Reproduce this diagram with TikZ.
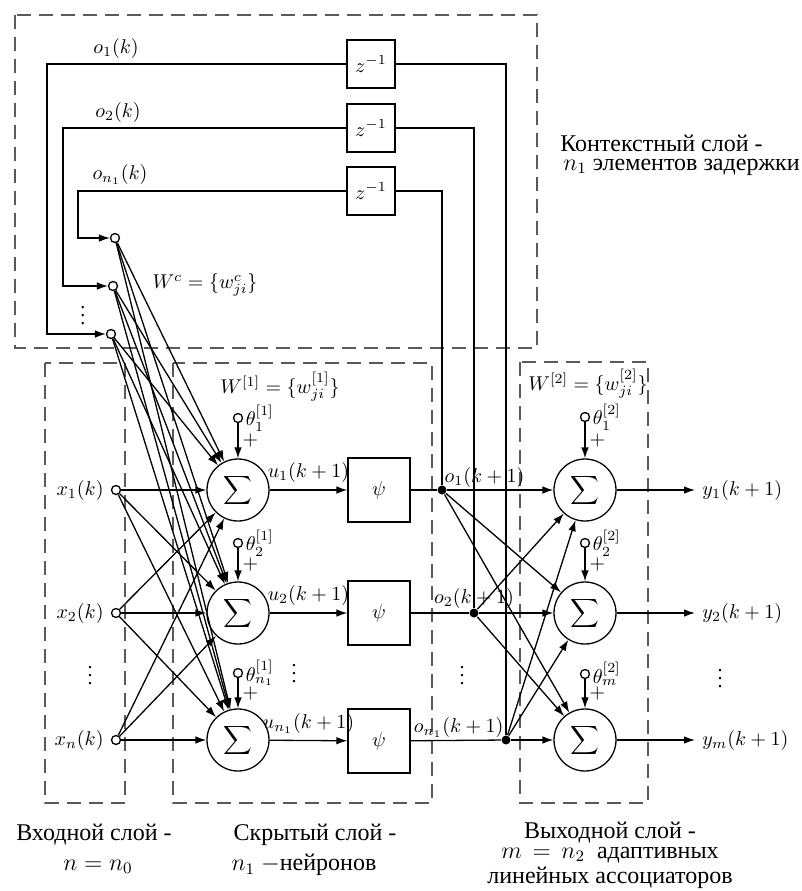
\documentclass[tikz,border=0pt]{standalone}
\usepackage{fontspec}
\setmainfont{Liberation Serif}
\usetikzlibrary{arrows.meta}

\begin{document}
\begin{tikzpicture}[
	x=0.5pt, y=-0.5pt,
	line width=0.65pt,
	sg/.style = {circle, draw, minimum size=31pt, inner sep=0pt},
	pb/.style = {rectangle, draw, minimum width=31pt, minimum height=32pt},
	zb/.style = {rectangle, draw, minimum size=24pt},
	io/.style = {circle, draw, fill=white, minimum size=4.5pt, inner sep=0pt},
	jd/.style = {circle, fill, minimum size=4.5pt, inner sep=0pt},
	vd/.style = {inner sep=0pt},
	lay/.style = {draw=black!65, dash pattern=on 7pt off 4pt},
	r/.style = {-{Latex[length=5.5pt, width=3.8pt]}},
	txt/.style = {font=\fontsize{12}{13}\selectfont}
	]
	\useasboundingbox (0,0) rectangle (802,891);

	%Layers
	\draw[lay]	(15,15)		rectangle	(537,348);
	\draw[lay]	(45,363)	rectangle	(125,803);
	\draw[lay]	(173,363)	rectangle	(432,803);
	\draw[lay]	(520,362)	rectangle	(648,803);

	%Nodes
	\node[zb]	(d1)	at	(371,64)	{$z^{-1}$};
	\node[zb]	(d2)	at	(371,128)	{$z^{-1}$};
	\node[zb]	(d3)	at	(371,191)	{$z^{-1}$};
	\coordinate	(k1)	at	(47,64);
	\coordinate	(k2)	at	(63,128);
	\coordinate	(k3)	at	(78,191);

	\node[io]	(c1)	at	(115,238)	{};
	\node[io]	(c2)	at	(113,286)	{};
	\node[io]	(c3)	at	(111,334)	{};

	\node[io]	(x1)	at	(116,490)	{};
	\node[io]	(x2)	at	(116,613)	{};
	\node[io]	(xn)	at	(116,740)	{};

	\node[sg]	(h1)	at	(238,490)	{$\displaystyle\sum$};
	\node[sg]	(h2)	at	(238,613)	{$\displaystyle\sum$};
	\node[sg]	(h3)	at	(238,740)	{$\displaystyle\sum$};
	\node[io]	(hb1)	at	(238,418)	{};
	\node[io]	(hb2)	at	(238,543)	{};
	\node[io]	(hb3)	at	(238,673)	{};

	\node[pb]	(p1)	at	(379,490)	{$\psi$};
	\node[pb]	(p2)	at	(379,613)	{$\psi$};
	\node[pb]	(p3)	at	(379,741)	{$\psi$};

	\node[jd]	(o1)	at	(442,490)	{};
	\node[jd]	(o2)	at	(474,613)	{};
	\node[jd]	(o3)	at	(506,740)	{};

	\node[sg]	(s1)	at	(585,490)	{$\displaystyle\sum$};
	\node[sg]	(s2)	at	(585,613)	{$\displaystyle\sum$};
	\node[sg]	(s3)	at	(585,740)	{$\displaystyle\sum$};
	\node[io]	(sb1)	at	(585,417)	{};
	\node[io]	(sb2)	at	(585,543)	{};
	\node[io]	(sb3)	at	(585,674)	{};

	\node[anchor=west]	(y1)	at	(695,490)	{$y_1(k+1)$};
	\node[anchor=west]	(y2)	at	(695,613)	{$y_2(k+1)$};
	\node[anchor=west]	(ym)	at	(695,740)	{$y_m(k+1)$};

	%Labels
	\node		(lo1)	at	(116,48)	{$o_1(k)$};
	\node		(lo2)	at	(118,112)	{$o_2(k)$};
	\node		(lo3)	at	(120,174)	{$o_{n_1}(k)$};
	\node		(wc)	at	(205,285)	{$W^c=\{w^c_{ji}\}$};
	\node		(w1)	at	(280,387)	{$W^{[1]}=\{w^{[1]}_{ji}\}$};
	\node		(w2)	at	(588,384)	{$W^{[2]}=\{w^{[2]}_{ji}\}$};

	\node[anchor=east]	(lx1)	at	(x1.west)	{$x_1(k)$};
	\node[anchor=east]	(lx2)	at	(x2.west)	{$x_2(k)$};
	\node[anchor=east]	(lxn)	at	(xn.west)	{$x_n(k)$};

	\node[anchor=west, inner sep=1pt]	(th1)	at	(hb1.east)	{$\theta_1^{[1]}$};
	\node[anchor=west, inner sep=1pt]	(th2)	at	(hb2.east)	{$\theta_2^{[1]}$};
	\node[anchor=west, inner sep=1pt]	(th3)	at	(hb3.east)	{$\theta_{n_1}^{[1]}$};
	\node[anchor=west, inner sep=1pt]	(ts1)	at	(sb1.east)	{$\theta_1^{[2]}$};
	\node[anchor=west, inner sep=1pt]	(ts2)	at	(sb2.east)	{$\theta_2^{[2]}$};
	\node[anchor=west, inner sep=1pt]	(ts3)	at	(sb3.east)	{$\theta_m^{[2]}$};

	\node[anchor=south west, inner sep=1pt]	(lo1b)	at	(o1)	{$o_1(k+1)$};
	\node[anchor=south, inner sep=2pt]		(lo2b)	at	(o2)	{$o_2(k+1)$};
	\node[anchor=south east, inner sep=1pt]	(lo3b)	at	(o3)	{$o_{n_1}(k+1)$};

	\node[vd]	(v1)	at	(83,310)	{$\vdots$};
	\node[vd]	(v2)	at	(90,670)	{$\vdots$};
	\node[vd]	(v3)	at	(294,668)	{$\vdots$};
	\node[vd]	(v4)	at	(462,670)	{$\vdots$};
	\node[vd]	(v5)	at	(720,673)	{$\vdots$};

	\node[txt, anchor=west]	(tc1)	at	(553,143)	{Контекстный слой -};
	\node[txt, anchor=west]	(tc2)	at	(556,167)	{$n_1$ элементов задержки};
	\node[txt]	(ti1)	at	(94,835)	{Входной слой -};
	\node[txt]	(ti2)	at	(98,867)	{$n=n_0$};
	\node[txt]	(tk1)	at	(315,835)	{Скрытый слой -};
	\node[txt]	(tk2)	at	(304,865)	{$n_1$ $-$нейронов};
	\node[txt]	(tv1)	at	(610,833)	{Выходной слой -};
	\node[txt]	(tv2)	at	(610,855)	{$m\,=\,n_2$\ \ адаптивных};
	\node[txt]	(tv3)	at	(610,878)	{линейных ассоциаторов};

	%Lines
	\draw		(o1)	|-	(d3.east);
	\draw		(o2)	|-	(d2.east);
	\draw		(o3)	|-	(d1.east);
	\draw[r]	(d1.west)	--	(k1)	|-	(c3.west);
	\draw[r]	(d2.west)	--	(k2)	|-	(c2.west);
	\draw[r]	(d3.west)	--	(k3)	|-	(c1.west);

	\draw[r]	(c1)	--	(h1);
	\draw[r]	(c1)	--	(h2);
	\draw[r]	(c1)	--	(h3);
	\draw[r]	(c2)	--	(h1);
	\draw[r]	(c2)	--	(h2);
	\draw[r]	(c2)	--	(h3);
	\draw[r]	(c3)	--	(h1);
	\draw[r]	(c3)	--	(h2);
	\draw[r]	(c3)	--	(h3);

	\draw[r]	(x1)	--	(h1);
	\draw[r]	(x1)	--	(h2);
	\draw[r]	(x1)	--	(h3);
	\draw[r]	(x2)	--	(h1);
	\draw[r]	(x2)	--	(h2);
	\draw[r]	(x2)	--	(h3);
	\draw[r]	(xn)	--	(h1);
	\draw[r]	(xn)	--	(h2);
	\draw[r]	(xn)	--	(h3);

	\draw[r]	(hb1)	--	node[right, inner sep=2pt]	{$+$}	(h1);
	\draw[r]	(hb2)	--	node[right, inner sep=2pt]	{$+$}	(h2);
	\draw[r]	(hb3)	--	node[right, inner sep=2pt]	{$+$}	(h3);

	\draw[r]	(h1)	--	node[above]	{$u_1(k+1)$}	(p1);
	\draw[r]	(h2)	--	node[above]	{$u_2(k+1)$}	(p2);
	\draw[r]	(h3)	--	node[above]	{$u_{n_1}(k+1)$}	(p3);
	\draw		(p1)	--	(o1);
	\draw		(p2)	--	(o2);
	\draw		(p3)	--	(o3);

	\draw[r]	(o1)	--	(s1);
	\draw[r]	(o1)	--	(s2);
	\draw[r]	(o1)	--	(s3);
	\draw[r]	(o2)	--	(s1);
	\draw[r]	(o2)	--	(s2);
	\draw[r]	(o2)	--	(s3);
	\draw[r]	(o3)	--	(s1);
	\draw[r]	(o3)	--	(s2);
	\draw[r]	(o3)	--	(s3);

	\draw[r]	(sb1)	--	node[right, inner sep=2pt]	{$+$}	(s1);
	\draw[r]	(sb2)	--	node[right, inner sep=2pt]	{$+$}	(s2);
	\draw[r]	(sb3)	--	node[right, inner sep=2pt]	{$+$}	(s3);

	\draw[r]	(s1)	--	(y1.west);
	\draw[r]	(s2)	--	(y2.west);
	\draw[r]	(s3)	--	(ym.west);
\end{tikzpicture}
\end{document}
